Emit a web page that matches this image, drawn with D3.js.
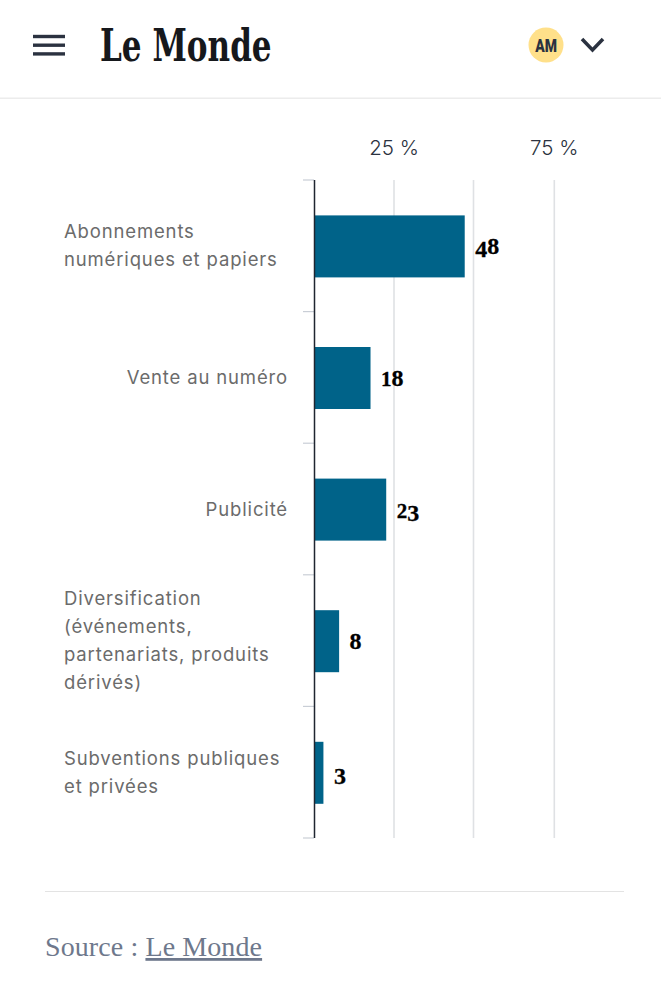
<!DOCTYPE html>
<html><head><meta charset="utf-8">
<script src="https://cdn.jsdelivr.net/npm/d3@7"></script>
<style>html,body{margin:0;background:#fff}svg{display:block}</style></head>
<body><div id="c"></div>
<script>
const categories=[["Abonnements","numériques et papiers"],["Vente au numéro"],["Publicité"],["Diversification","(événements,","partenariats, produits","dérivés)"],["Subventions publiques","et privées"]];
const values=[48,18,23,8,3];
const gridTicks=[25,50,75];
const tickLabels=["25 %","","75 %"];
const sans="Inter, Roboto, sans-serif", serif="'Liberation Serif', serif";
const svg=d3.select("#c").append("svg").attr("width",661).attr("height",1000);
const x=d3.scaleLinear().domain([0,25,50,75]).range([314.5,394,473.5,554.3]);
const xBar=d3.scaleLinear().domain([0,100]).range([314,628]);
const y=d3.scaleBand().domain(d3.range(values.length)).range([180,838]);
const barH=62;
const hamb=svg.append("g").attr("stroke","#2b3240").attr("stroke-width",3.4);
d3.range(3).forEach(i=>hamb.append("line").attr("x1",33).attr("x2",65).attr("y1",36.5+i*8.7).attr("y2",36.5+i*8.7));
svg.append("text").attr("transform","translate(100,61) scale(0.84,1.2)").attr("font-family","'DejaVu Serif',serif").attr("font-weight",700).attr("font-size",37).attr("fill","#16181c").text("Le Monde");
svg.append("circle").attr("cx",546).attr("cy",45).attr("r",17.5).attr("fill","#ffe08a");
svg.append("text").attr("transform","translate(546,51.5) scale(0.9,1.15)").attr("text-anchor","middle").attr("font-family","Roboto,sans-serif").attr("font-weight",900).attr("font-size",15.5).attr("fill","#2b3240").text("AM");
svg.append("path").attr("d","M582,39 L592.5,50 L603,39").attr("fill","none").attr("stroke","#2b3240").attr("stroke-width",3.5);
svg.append("rect").attr("x",0).attr("y",97.5).attr("width",661).attr("height",1.5).attr("fill","#ececec");
svg.append("g").selectAll("line").data(gridTicks).join("line").attr("x1",d=>x(d)).attr("x2",d=>x(d)).attr("y1",180).attr("y2",838).attr("stroke","#dfe1e4").attr("stroke-width",1.6);
svg.append("g").selectAll("text").data(gridTicks).join("text").attr("x",d=>x(d)).attr("y",155).attr("text-anchor","middle").attr("font-family",sans).attr("font-size",20.5).attr("font-weight",300).attr("fill","#2b3240").text((d,i)=>tickLabels[i]);
svg.append("g").selectAll("line").data(d3.range(values.length+1)).join("line")
 .attr("x1",303).attr("x2",314).attr("y1",d=>180+d*y.step()).attr("y2",d=>180+d*y.step()).attr("stroke","#c9ced6").attr("stroke-width",1.2);
const cy=i=>y(i)+y.bandwidth()/2+0.6;
svg.append("g").selectAll("rect").data(values).join("rect").attr("x",xBar(0)).attr("y",(d,i)=>cy(i)-barH/2).attr("width",d=>xBar(d)-xBar(0)).attr("height",barH).attr("fill","#006389");
svg.append("line").attr("x1",x(0)).attr("x2",x(0)).attr("y1",180).attr("y2",838).attr("stroke","#1f2530").attr("stroke-width",1.5);
// old-style numerals: low digits sit at x-height, descending digits drop below the baseline
const digitStyle={"1":[21,0],"2":[21,0],"3":[24,3],"4":[24,3],"8":[24,0]};
values.forEach((v,i)=>{
  const t=svg.append("text").attr("x",xBar(v)+10.5).attr("y",cy(i)+8).attr("font-family",serif).attr("font-weight",700).attr("stroke","#000").attr("stroke-width",0.3).attr("fill","#000");
  let prev=0;
  String(v).split("").forEach(c=>{
    const s=digitStyle[c];
    t.append("tspan").attr("font-size",s[0]).attr("dy",s[1]-prev).text(c);
    prev=s[1];
  });
});
const lh=28;
categories.forEach((ls,i)=>{
  const wrap=ls.length>1;
  const t=svg.append("text").attr("font-family",sans).attr("font-size",18.5).attr("letter-spacing",0.85).attr("fill","#6b6b6b")
    .attr("text-anchor",wrap?"start":"end");
  ls.forEach((s,j)=>t.append("tspan").attr("x",wrap?64:288).attr("y",cy(i)+6+(j-(ls.length-1)/2)*lh).text(s));
});
svg.append("rect").attr("x",45).attr("y",891).attr("width",579).attr("height",1).attr("fill","#e3e3e3");
const src=svg.append("text").attr("x",45).attr("y",956).attr("font-family",serif).attr("font-size",28).attr("letter-spacing",0.1).attr("fill","#6e788c");
src.append("tspan").text("Source : ");
src.append("tspan").attr("text-decoration","underline").text("Le Monde");
</script></body></html>
